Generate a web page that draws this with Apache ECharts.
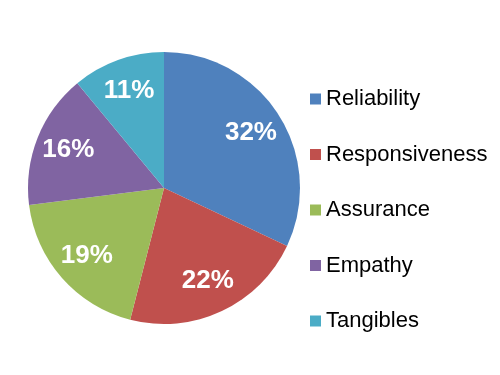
<!DOCTYPE html>
<html lang="en">
<head>
    <meta charset="UTF-8">
    <title>Service quality dimensions</title>
    <style>
        html, body { margin: 0; padding: 0; background: #fff; }
    </style>
</head>
<body>
<div id="main" style="width: 500px;height:375px;"></div>

<script src="https://cdn.jsdelivr.net/npm/echarts@6/dist/echarts.min.js"></script>

<script type="text/javascript">
    // data
    var categories = ['Reliability', 'Responsiveness', 'Assurance', 'Empathy', 'Tangibles'];
    var shares = [32, 22, 19, 16, 11];
    var colors = ['#4F81BD', '#C0504D', '#9BBB59', '#8064A2', '#4BACC6'];

    var pieData = [];
    for (var i = 0; i < categories.length; i++) {
        pieData.push({ name: categories[i], value: shares[i], itemStyle: { color: colors[i] } });
    }

    var myChart = echarts.init(document.getElementById('main'));

    var option = {
        animation: false,
        legend: {
            orient: 'vertical',
            left: 310,
            top: 88,
            padding: 0,
            icon: 'rect',
            itemWidth: 11,
            itemHeight: 11,
            itemGap: 33.5,
            data: categories,
            textStyle: {
                fontFamily: 'Liberation Sans, Arial, sans-serif',
                fontSize: 22,
                lineHeight: 22,
                color: '#000'
            }
        },
        series: [
            {
                // the slices
                type: 'pie',
                center: [164, 188],
                radius: [0, 136],
                startAngle: 90,
                clockwise: true,
                label: { show: false },
                labelLine: { show: false },
                emphasis: { disabled: true },
                data: pieData
            },
            {
                // invisible ring only used to place the percent labels
                type: 'pie',
                center: [164, 188],
                radius: [64, 136],
                startAngle: 90,
                clockwise: true,
                silent: true,
                legendHoverLink: false,
                itemStyle: { color: 'rgba(0,0,0,0)' },
                label: {
                    show: true,
                    position: 'inside',
                    formatter: '{c}%',
                    color: '#fff',
                    fontFamily: 'Liberation Sans, Arial, sans-serif',
                    fontWeight: 'bold',
                    fontSize: 26
                },
                labelLine: { show: false },
                data: categories.map(function (c, i) { return { name: c + ' ', value: shares[i] }; })
            }
        ]
    };
    myChart.setOption(option);
</script>
</body>
</html>
